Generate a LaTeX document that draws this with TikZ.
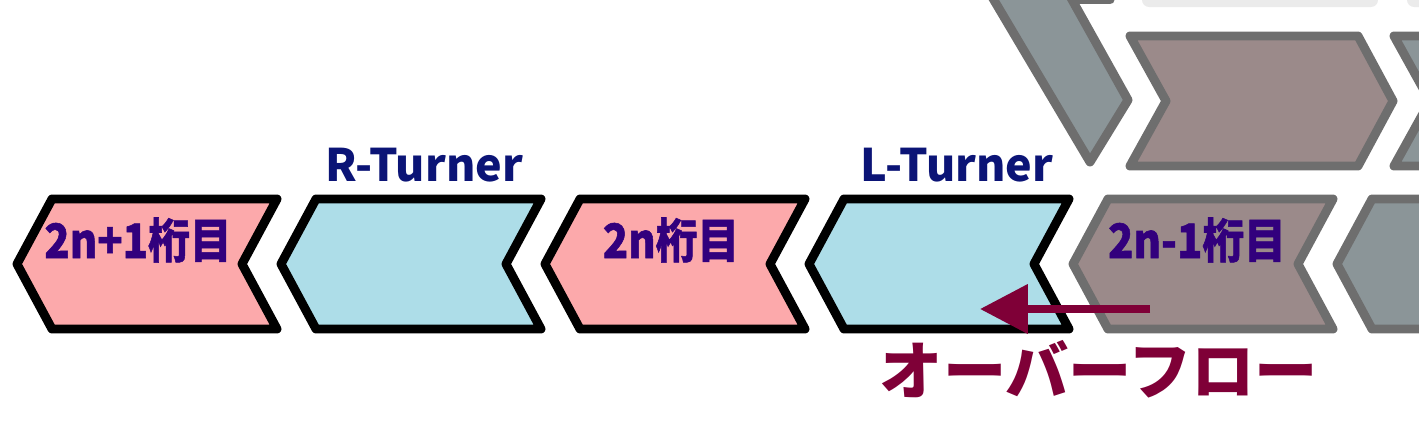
\documentclass[tikz,border=0pt]{standalone}
\usepackage{graphicx}
\usepackage{fontspec}
\newfontfamily\jp{Noto Sans CJK JP}
\newfontfamily\jpheavy{Noto Sans CJK JP}[BoldFeatures={FakeBold=1.2}]
\usetikzlibrary{arrows.meta}
\definecolor{pinkf}{HTML}{FCA9AB}
\definecolor{bluef}{HTML}{ADDDE8}
\definecolor{brownf}{HTML}{9B8A8A}
\definecolor{greyf}{HTML}{8B9598}
\definecolor{greyd}{HTML}{6E6E6E}
\definecolor{lightf}{HTML}{EBEBEB}
\definecolor{digitc}{HTML}{32007D}
\definecolor{navyc}{HTML}{0B1476}
\definecolor{maroonc}{HTML}{7F0037}
\newcommand\narrowtxt[1]{\scalebox{0.88}[1]{#1}}
\tikzset{
  chev/.style={line width=5.1pt, line join=round},
  digitlbl/.style={text=digitc, font=\jpheavy\bfseries\fontsize{27}{30}\selectfont, inner sep=0pt},
  turnlbl/.style={text=navyc, font=\jp\bfseries\fontsize{25.5}{30}\selectfont, inner sep=0pt},
  flowlbl/.style={text=maroonc, font=\jp\bfseries\fontsize{36}{40}\selectfont, inner sep=0pt},
  flowarrow/.style={draw=maroonc, line width=4.5pt, -{Triangle[length=27.2pt,width=27.2pt]}}
}
% left-pointing chevron: left tip (x,y)
\newcommand\ChevLeft[4]{%
  \draw[chev, fill=#3, draw=#4] (#1+35,#2-65) -- (#1+260,#2-65) -- (#1+225,#2) -- (#1+260,#2+65) -- (#1+35,#2+65) -- (#1,#2) -- cycle;}
% right-pointing chevron: top-left corner x, centre y
\newcommand\ChevRight[4]{%
  \draw[chev, fill=#3, draw=#4] (#1,#2-65) -- (#1+228,#2-65) -- (#1+263,#2) -- (#1+228,#2+65) -- (#1,#2+65) -- (#1+36,#2) -- cycle;}
\begin{document}
\begin{tikzpicture}[x=0.02cm,y=-0.02cm]
\useasboundingbox (0,0) rectangle (1419,440);
\clip (0,0) rectangle (1419,440);
% faded row above
\fill[lightf, rounded corners=4] (1142,-30) rectangle (1378,7);
\fill[lightf, rounded corners=4] (1407,-30) rectangle (1460,7);
\draw[greyd, line width=5.1pt, line cap=round] (1040,0) -- (1110,0);
% grey band
\draw[chev, fill=greyf, draw=greyd] (982,-20) -- (1090,162) -- (1128,100) -- (1061,-20) -- cycle;
% top row
\ChevRight{1130}{101}{brownf}{greyd}
\ChevRight{1394}{101}{greyf}{greyd}
% bottom row
\ChevLeft{17}{264}{pinkf}{black}
\ChevLeft{281}{264}{bluef}{black}
\ChevLeft{545}{264}{pinkf}{black}
\ChevLeft{809}{264}{bluef}{black}
\ChevLeft{1073}{264}{brownf}{greyd}
\ChevLeft{1337}{264}{greyf}{greyd}
% labels
\node[digitlbl] (d1) at (138,240) {\narrowtxt{2n+1桁目}};
\node[digitlbl] (d2) at (671,240) {\narrowtxt{2n桁目}};
\node[digitlbl] (d3) at (1197,240) {\narrowtxt{2n-1桁目}};
\node[turnlbl] (rt) at (424,165) {R-Turner};
\node[turnlbl] (lt) at (957,165) {L-Turner};
% overflow
\coordinate (ofs) at (1150,309);
\coordinate (ofe) at (980,309);
\draw[flowarrow] (ofs) -- (ofe);
\node[flowlbl] (of) at (1099,369) {オーバーフロー};
\end{tikzpicture}
\end{document}
